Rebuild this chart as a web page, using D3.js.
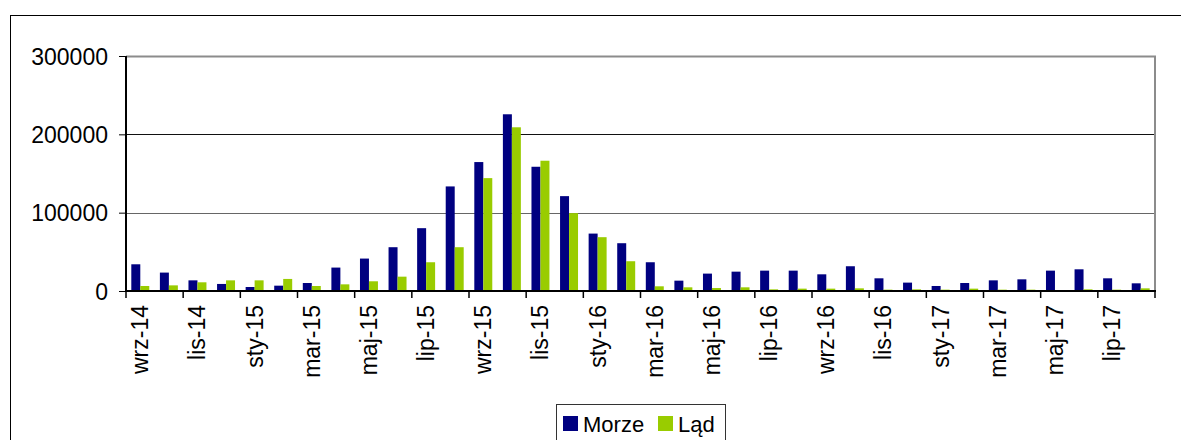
<!DOCTYPE html>
<html>
<head>
<meta charset="utf-8">
<script src="https://cdn.jsdelivr.net/npm/d3@7"></script>
<style>
    body { margin: 0; background: #fff; }
    text { font-family: Arial, "Liberation Sans", sans-serif; }
</style>
</head>
<body>
<div id="chart-area"></div>
<script>
// Data
var months = ["wrz-14","paź-14","lis-14","gru-14","sty-15","lut-15","mar-15","kwi-15","maj-15","cze-15","lip-15","sie-15",
              "wrz-15","paź-15","lis-15","gru-15","sty-16","lut-16","mar-16","kwi-16","maj-16","cze-16","lip-16","sie-16",
              "wrz-16","paź-16","lis-16","gru-16","sty-17","lut-17","mar-17","kwi-17","maj-17","cze-17","lip-17","sie-17"];
var morze = [34100, 23500, 13600, 9000, 5100, 6800, 10200, 29900, 41400, 55900, 80200, 133500,
             164600, 225600, 158600, 121100, 73300, 61000, 36700, 13200, 22200, 24700, 26000, 26000,
             21300, 31600, 16200, 10700, 6400, 10200, 13600, 14900, 26000, 27700, 16200, 9800];
var lad = [6400, 7200, 11100, 13600, 13600, 15400, 6400, 8500, 12400, 18300, 36700, 55900,
           144100, 209000, 166300, 99400, 68700, 38000, 6000, 4700, 3800, 4700, 2100, 3000,
           3000, 3400, 1700, 2100, 1700, 3000, 1700, 1700, 900, 2100, 1700, 3400];
var yTicks = [0, 100000, 200000, 300000];
var seriesNames = ["Morze", "Ląd"];
var seriesColors = ["#000080", "#99cc00"];

var margin = { left: 126, top: 56 };
var width = 1029, height = 235;

var svg = d3.select("#chart-area")
    .append("svg")
        .attr("width", 1181)
        .attr("height", 440);

// outer chart border
svg.append("rect")
    .attr("x", 10.5).attr("y", 15.5)
    .attr("width", 1300).attr("height", 500)
    .attr("fill", "none")
    .attr("stroke", "#000");

var g = svg.append("g")
    .attr("transform", "translate(" + margin.left + "," + margin.top + ")");

// Scales
var x = d3.scaleBand()
    .domain(months)
    .range([0, width]);
var x1 = d3.scaleBand()
    .domain(seriesNames)
    .range([0, x.bandwidth()])
    .paddingOuter(0.59);
var y = d3.scaleLinear()
    .domain([0, 300000])
    .range([height, 0]);

// Gridlines
g.selectAll(".grid")
    .data(yTicks.slice(1, 3))
    .enter().append("line")
        .attr("class", "grid")
        .attr("x1", 0).attr("x2", width)
        .attr("y1", function(d){ return Math.round(y(d)) + 0.5; })
        .attr("y2", function(d){ return Math.round(y(d)) + 0.5; })
        .attr("stroke", function(d){ return d == 100000 ? "#666" : "#111"; })
        .attr("stroke-width", 1);

// Plot area border (top, right)
g.append("path")
    .attr("d", "M0,0.5H" + width + "V" + height)
    .attr("fill", "none")
    .attr("stroke", "#8c8c8c")
    .attr("stroke-width", 2);

// Bars
var table = months.map(function(m, i){
    return { month: m, values: [{ key: "Morze", v: morze[i] }, { key: "Ląd", v: lad[i] }] };
});
var groups = g.selectAll(".month")
    .data(table)
    .enter().append("g")
        .attr("class", "month")
        .attr("transform", function(d){ return "translate(" + x(d.month) + ",0)"; });
groups.selectAll("rect")
    .data(function(d){ return d.values; })
    .enter().append("rect")
        .attr("x", function(d){ return x1(d.key); })
        .attr("width", x1.bandwidth())
        .attr("y", function(d){ return y(d.v); })
        .attr("height", function(d){ return height - y(d.v); })
        .attr("fill", function(d, i){ return seriesColors[i]; });

// Y Axis
var yAxisCall = d3.axisLeft(y)
    .tickValues(yTicks)
    .tickSize(7)
    .tickPadding(11)
    .tickFormat(function(d){ return d; });
var yAxis = g.append("g")
    .attr("class", "y axis")
    .call(yAxisCall);
yAxis.select(".domain").attr("stroke", "#000").attr("stroke-width", 2).attr("d", "M0,0V" + height);
yAxis.selectAll("text")
    .attr("font-size", "23px")
    .attr("fill", "#000")
    .attr("dy", "0.36em");

// X Axis
var xAxis = g.append("g")
    .attr("class", "x axis")
    .attr("transform", "translate(0," + height + ")");
xAxis.append("line")
    .attr("x1", 0).attr("x2", width + 1)
    .attr("stroke", "#000").attr("stroke-width", 2);
xAxis.selectAll(".tick")
    .data(months.filter(function(d, i){ return i % 2 == 0; }).concat(["end"]))
    .enter().append("line")
        .attr("class", "tick")
        .attr("x1", function(d){ return d == "end" ? width : x(d); })
        .attr("x2", function(d){ return d == "end" ? width : x(d); })
        .attr("y1", 0).attr("y2", 7)
        .attr("stroke", "#000").attr("stroke-width", 1.5);
xAxis.selectAll(".label")
    .data(months.filter(function(d, i){ return i % 2 == 0; }))
    .enter().append("text")
        .attr("class", "label")
        .attr("transform", function(d){
            return "translate(" + (x(d) + x.bandwidth() / 2 + 8) + ",14) rotate(-90)";
        })
        .attr("text-anchor", "end")
        .attr("font-size", "23px")
        .text(function(d){ return d; });

// Legend
var legend = svg.append("g")
    .attr("transform", "translate(556,404)");
legend.append("rect")
    .attr("x", 0.5).attr("y", 0.5)
    .attr("width", 169).attr("height", 40)
    .attr("fill", "#fff")
    .attr("stroke", "#333");
seriesNames.forEach(function(name, i){
    var row = legend.append("g")
        .attr("transform", "translate(" + (7 + i * 95) + ",0)");
    row.append("rect")
        .attr("y", 12)
        .attr("width", 15)
        .attr("height", 15)
        .attr("fill", seriesColors[i]);
    row.append("text")
        .attr("x", 20)
        .attr("y", 28)
        .attr("font-size", "22px")
        .text(name);
});
</script>
</body>
</html>
